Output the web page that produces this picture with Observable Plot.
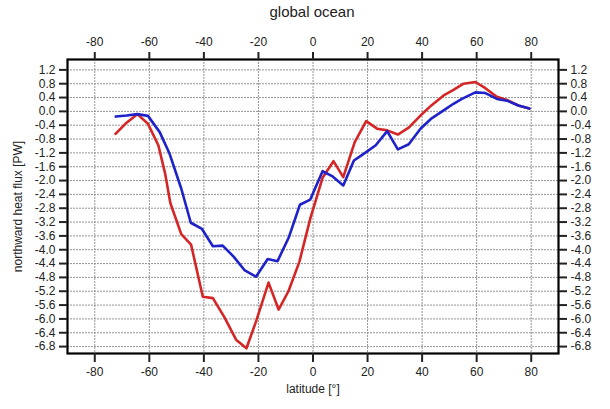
<!DOCTYPE html>
<html>
<head>
<meta charset="utf-8">
<script src="https://cdn.jsdelivr.net/npm/d3@7"></script>
<script src="https://cdn.jsdelivr.net/npm/@observablehq/plot@0.6"></script>
<style>
  html, body { margin: 0; padding: 0; background: #fff; }
  #wrap { position: relative; width: 610px; height: 409px; font-family: "Liberation Sans", Arial, sans-serif; }
  #title { height: 24px; line-height: 24px; font-size: 15px; color: #222; text-align: center; padding-left: 14px; box-sizing: border-box; }
  svg { display: block; }
</style>
</head>
<body>
<div id="wrap">
  <div id="title">global ocean</div>
  <div id="chart"></div>
</div>
<script>
const xTicks = [-80, -60, -40, -20, 0, 20, 40, 60, 80];
const yTicks = [1.2, 0.8, 0.4, 0.0, -0.4, -0.8, -1.2, -1.6, -2.0, -2.4, -2.8, -3.2, -3.6, -4.0, -4.4, -4.8, -5.2, -5.6, -6.0, -6.4, -6.8];

const redLat = [-72.4, -68.8, -64.4, -60.5, -56.7, -54.2, -52.3, -48.3, -44.7, -40.4, -36.7, -32.5, -28.2, -24.4, -20.9, -16.3, -12.6, -9.0, -5.0, -1.0, 3.5, 7.5, 11.1, 15.3, 19.5, 23.5, 27.2, 31.1, 35.1, 39.4, 43.5, 47.9, 51.5, 55.2, 59.5, 63.2, 67.4, 71.1, 75.3, 79.3];
const redVal = [-0.65, -0.36, -0.08, -0.36, -0.98, -1.8, -2.65, -3.55, -3.85, -5.36, -5.4, -5.95, -6.6, -6.85, -6.08, -4.95, -5.73, -5.2, -4.35, -3.1, -1.92, -1.44, -1.9, -0.89, -0.28, -0.5, -0.55, -0.67, -0.47, -0.12, 0.18, 0.46, 0.62, 0.8, 0.85, 0.67, 0.42, 0.33, 0.17, 0.08];

const blueLat = [-72.3, -68.3, -64.4, -60.5, -56.2, -52.6, -48.3, -44.8, -40.7, -36.7, -33.1, -29.1, -25.0, -20.9, -16.6, -13.0, -8.8, -4.8, -1.0, 3.5, 7.2, 11.1, 15.0, 18.7, 23.0, 27.2, 31.1, 35.1, 39.4, 43.5, 47.9, 51.5, 54.6, 59.5, 63.2, 67.4, 71.1, 75.3, 79.3];
const blueVal = [-0.15, -0.12, -0.08, -0.13, -0.6, -1.22, -2.23, -3.22, -3.4, -3.9, -3.88, -4.2, -4.6, -4.78, -4.27, -4.33, -3.63, -2.7, -2.55, -1.73, -1.88, -2.14, -1.42, -1.22, -0.98, -0.57, -1.1, -0.95, -0.5, -0.2, 0.03, 0.22, 0.36, 0.55, 0.53, 0.36, 0.31, 0.17, 0.08];

const red = redLat.map((x, i) => ({x, y: redVal[i]}));
const blue = blueLat.map((x, i) => ({x, y: blueVal[i]}));

const gridStyle = {stroke: "#8a8a8a", strokeOpacity: 0.9, strokeDasharray: "2,1", strokeWidth: 1};

const chart = Plot.plot({
  width: 610,
  height: 385,
  marginTop: 35,
  marginBottom: 56,
  marginLeft: 67,
  marginRight: 52,
  x: {domain: [-90, 90]},
  y: {domain: [-7, 1.5]},
  style: {fontFamily: "'Liberation Sans', Arial, sans-serif", fontSize: "12px", color: "#222", background: "#fff"},
  marks: [
    Plot.gridX(xTicks, gridStyle),
    Plot.gridY(yTicks, gridStyle),
    Plot.line(red, {x: "x", y: "y", stroke: "#d42626", strokeWidth: 2.6}),
    Plot.line(blue, {x: "x", y: "y", stroke: "#1e22c8", strokeWidth: 2.6}),
    Plot.frame({stroke: "#000", strokeWidth: 2.2}),
    Plot.axisX(xTicks, {anchor: "bottom", tickSize: 9, tickPadding: 5, strokeWidth: 2, tickFormat: d => String(d), label: null}),
    Plot.axisX(xTicks, {anchor: "top", tickSize: 8, tickPadding: 6, strokeWidth: 2, tickFormat: d => String(d), label: null}),
    Plot.axisY(yTicks, {anchor: "left", tickSize: 8, tickPadding: 4, strokeWidth: 2, tickFormat: d => d.toFixed(1), label: null}),
    Plot.axisY(yTicks, {anchor: "right", tickSize: 8, tickPadding: 4, strokeWidth: 2, tickFormat: d => d.toFixed(1), label: null}),
    Plot.text(["latitude [°]"], {frameAnchor: "bottom", dy: 36, textAnchor: "middle", lineAnchor: "middle", fontSize: 12}),
    Plot.text(["northward heat flux [PW]"], {frameAnchor: "left", dx: -49, rotate: -90, textAnchor: "middle", lineAnchor: "middle", fontSize: 12})
  ]
});
document.getElementById("chart").appendChild(chart);
</script>
</body>
</html>
